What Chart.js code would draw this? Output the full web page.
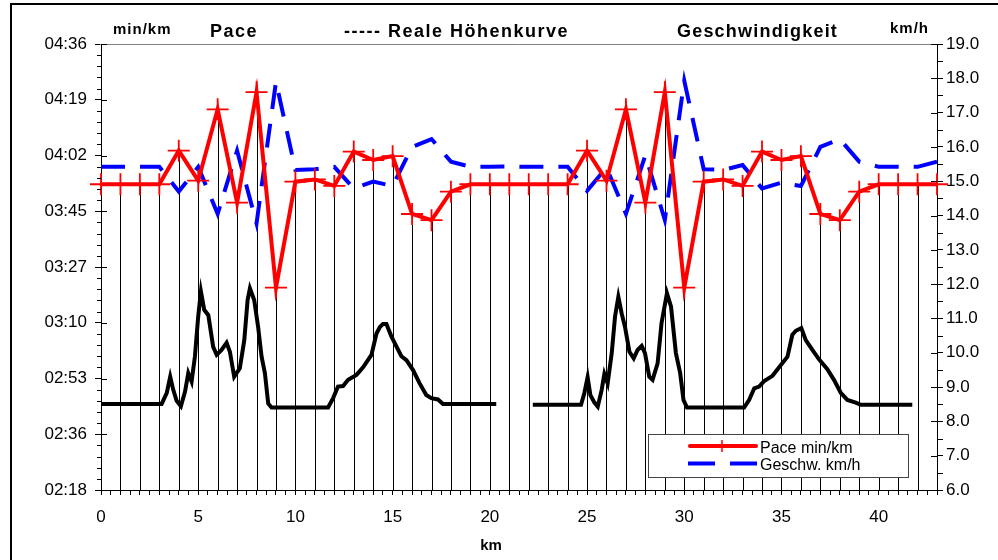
<!DOCTYPE html>
<html lang="de">
<head>
<meta charset="utf-8">
<title>Pace / Reale Höhenkurve / Geschwindigkeit</title>
<script src="https://cdn.jsdelivr.net/npm/chart.js@4.4.1/dist/chart.umd.min.js"></script>
<style>
  html, body { margin: 0; padding: 0; background: #fff; }
  #wrap { width: 998px; height: 560px; }
</style>
</head>
<body>
<div id="wrap"><canvas id="laufChart" width="998" height="560"></canvas></div>
<script>
// Kilometerpunkte (x-Achse)
const kmPunkte = [0, 1, 2, 3, 4, 5, 6, 7, 8, 9, 10, 11, 12, 13, 14, 15, 16, 17, 18, 19, 20, 21,
  22, 23, 24, 25, 26, 27, 28, 29, 30, 31, 32, 33, 34, 35, 36, 37, 38, 39, 40, 41, 42, 43];

// Pace je km in Sekunden (linke Achse, min/km)
const paceSek = [232.6, 232.6, 232.6, 232.6, 243.0, 233.7, 255.8, 226.9, 261.1, 200.6, 233.4,
  234.1, 232.1, 242.7, 240.1, 241.3, 223.4, 221.5, 230.3, 232.6, 232.6, 232.6,
  232.6, 232.6, 232.6, 243.0, 233.7, 255.8, 226.9, 261.1, 200.6, 233.4, 234.1,
  232.1, 242.7, 240.1, 241.3, 223.4, 221.5, 230.3, 232.6, 232.6, 232.6, 232.6];

// Geschwindigkeit je km (rechte Achse, km/h)
const geschwKmh = [15.42, 15.42, 15.42, 15.42, 14.70, 15.42, 14.05, 15.89, 13.77, 17.90, 15.33,
  15.35, 15.42, 14.79, 14.99, 14.86, 16.00, 16.23, 15.57, 15.42, 15.42, 15.43,
  15.42, 15.42, 15.42, 14.72, 15.40, 14.05, 15.76, 13.87, 17.93, 15.35, 15.33,
  15.47, 14.79, 14.96, 14.86, 16.00, 16.23, 15.57, 15.42, 15.42, 15.42, 15.57];

// Reale Höhenkurve (eigene, unsichtbare Achse); null = Lücke
const hoeheKm = [0, 3.12, 3.38, 3.56, 3.72, 3.89, 4.11, 4.32, 4.49, 4.66, 4.83, 5.00, 5.14, 5.31,
  5.52, 5.77, 5.95, 6.20, 6.46, 6.63, 6.85, 7.14, 7.37, 7.54, 7.66, 7.88, 8.08, 8.26, 8.43,
  8.60, 8.77, 11.68, 11.94, 12.19, 12.45, 12.71, 13.14, 13.48, 13.91, 14.17, 14.34, 14.50,
  14.68, 14.94, 15.45, 15.71, 16.05, 16.39, 16.73, 16.99, 17.33, 17.59, 20.33, 21.3,
  22.21, 24.69, 24.86, 25.03, 25.17, 25.38, 25.55, 25.75, 25.89, 26.06, 26.27, 26.44, 26.61,
  26.78, 26.95, 27.18, 27.40, 27.60, 27.81, 27.98, 28.20, 28.37, 28.63, 28.83, 29.11, 29.32,
  29.57, 29.79, 29.96, 30.14, 33.08, 33.34, 33.60, 33.85, 34.11, 34.54, 34.88, 35.31, 35.56,
  35.74, 36.02, 36.25, 36.59, 36.93, 37.36, 37.70, 38.05, 38.39, 38.82, 39.08, 41.73];
const hoeheM = [19.3, 19.3, 21.7, 25.4, 22.4, 20.0, 18.8, 22.0, 26.2, 24.3, 29.9, 38.9, 44.5, 40.4,
  39.2, 32.1, 30.3, 31.4, 33.0, 31.0, 25.4, 27.3, 33.6, 42.6, 45.2, 42.6, 36.6, 29.9, 26.2,
  19.4, 18.5, 18.5, 20.6, 23.2, 23.3, 24.7, 25.8, 27.5, 30.3, 35.1, 36.5, 37.2,
  37.2, 34.4, 30.0, 29.1, 26.9, 23.9, 21.3, 20.6, 20.3, 19.3, 19.3, null,
  19.1, 19.1, 21.7, 25.3, 21.3, 19.6, 18.7, 22.4, 26.0, 23.9, 30.7, 38.9, 43.3,
  39.6, 36.6, 31.0, 29.5, 31.4, 32.3, 30.7, 25.4, 24.7, 28.4, 37.4, 44.1, 41.1,
  30.7, 26.2, 20.2, 18.5, 18.5, 20.2, 22.8, 23.2, 24.4, 25.6, 27.5, 29.9, 34.8,
  35.7, 36.3, 33.6, 31.4, 29.3, 27.1, 24.7, 21.8, 20.2, 19.6, 19.1, 19.1];

// Achsenbeschriftung links
const paceTickSek = [138, 155.25, 172.5, 189.75, 207, 224.25, 241.5, 258.75, 276];
const paceTickLabels = ['02:18', '02:36', '02:53', '03:10', '03:27', '03:45', '04:02', '04:19', '04:36'];

const FONT = "'Liberation Sans', Arial, Helvetica, sans-serif";
Chart.defaults.font.family = FONT;
Chart.defaults.font.size = 17;
Chart.defaults.color = '#000';

const ROT = '#ff0000';
const BLAU = '#0000ff';

const pacePunkte = kmPunkte.map((km, i) => ({ x: km, y: paceSek[i] }));
const geschwPunkte = kmPunkte.map((km, i) => ({ x: km, y: geschwKmh[i] }));
const hoehePunkte = hoeheKm.map((km, i) => ({ x: km, y: hoeheM[i] }));

function text(ctx, str, x, y, font, spacing, align) {
  ctx.font = font;
  ctx.letterSpacing = spacing || '0px';
  ctx.textAlign = align || 'left';
  ctx.textBaseline = 'alphabetic';
  ctx.fillText(str, x, y);
}

const dekoPlugin = {
  id: 'deko',
  beforeDraw(chart) {
    const ctx = chart.ctx;
    ctx.save();
    ctx.fillStyle = '#fff';
    ctx.fillRect(0, 0, chart.width, chart.height);
    // Rahmen oben / links
    ctx.strokeStyle = '#000';
    ctx.lineWidth = 2;
    ctx.beginPath();
    ctx.moveTo(11, chart.height);
    ctx.lineTo(11, 4);
    ctx.lineTo(chart.width, 4);
    ctx.stroke();
    ctx.restore();
  },
  beforeDatasetsDraw(chart) {
    // Lotlinien von jedem Pace-Punkt zur x-Achse
    const { ctx, chartArea, scales } = chart;
    ctx.save();
    ctx.strokeStyle = '#000';
    ctx.lineWidth = 1;
    ctx.beginPath();
    kmPunkte.forEach((km, i) => {
      const x = Math.round(scales.x.getPixelForValue(km)) + 0.5;
      ctx.moveTo(x, scales.y.getPixelForValue(paceSek[i]));
      ctx.lineTo(x, chartArea.bottom);
    });
    ctx.stroke();
    ctx.restore();
  },
  afterDraw(chart) {
    const { ctx, chartArea, scales } = chart;
    const { left, right, top } = chartArea;
    ctx.save();

    // obere Begrenzung
    ctx.strokeStyle = '#808080';
    ctx.lineWidth = 1;
    ctx.beginPath();
    ctx.moveTo(left - 1, top + 0.5);
    ctx.lineTo(right, top + 0.5);
    ctx.stroke();

    // Zwischenstriche und innere Hauptstriche
    ctx.strokeStyle = '#000';
    ctx.beginPath();
    paceTickSek.forEach((v, i) => {
      const y = Math.round(scales.y.getPixelForValue(v)) + 0.5;
      ctx.moveTo(left, y); ctx.lineTo(left + 6, y);
      if (i < paceTickSek.length - 1) {
        const step = (paceTickSek[i + 1] - v) / 5;
        for (let j = 1; j < 5; j++) {
          const ym = Math.round(scales.y.getPixelForValue(v + j * step)) + 0.5;
          ctx.moveTo(left - 4, ym); ctx.lineTo(left, ym);
        }
      }
    });
    for (let v = 6; v <= 19; v++) {
      const y = Math.round(scales.y2.getPixelForValue(v)) + 0.5;
      ctx.moveTo(right - 6, y); ctx.lineTo(right, y);
      if (v < 19) {
        const ym = Math.round(scales.y2.getPixelForValue(v + 0.5)) + 0.5;
        ctx.moveTo(right, ym); ctx.lineTo(right + 6, ym);
      }
    }
    ctx.stroke();

    // Überschriften
    ctx.fillStyle = '#000';
    text(ctx, 'min/km', 113, 34, 'bold 15px ' + FONT, '1px');
    text(ctx, 'Pace', 210, 37, 'bold 18px ' + FONT, '1.5px');
    text(ctx, '----- Reale Höhenkurve', 344, 37, 'bold 18px ' + FONT, '1.5px');
    text(ctx, 'Geschwindigkeit', 677, 37, 'bold 18px ' + FONT, '1.2px');
    text(ctx, 'km/h', 890, 33, 'bold 15px ' + FONT, '1px');
    text(ctx, 'km', 491, 550, 'bold 15px ' + FONT, '0px', 'center');

    // Legende
    ctx.fillStyle = '#fff';
    ctx.fillRect(648.5, 434.5, 260, 43);
    ctx.strokeStyle = '#444';
    ctx.lineWidth = 1;
    ctx.strokeRect(648.5, 434.5, 260, 43);

    ctx.strokeStyle = ROT;
    ctx.lineWidth = 4;
    ctx.lineCap = 'round';
    ctx.beginPath();
    ctx.moveTo(690, 446); ctx.lineTo(756, 446);
    ctx.stroke();
    ctx.lineWidth = 1.5;
    ctx.lineCap = 'butt';
    ctx.beginPath();
    ctx.moveTo(722, 440); ctx.lineTo(722, 452);
    ctx.stroke();

    ctx.strokeStyle = BLAU;
    ctx.lineWidth = 4;
    ctx.beginPath();
    ctx.moveTo(688, 463.5); ctx.lineTo(715, 463.5);
    ctx.moveTo(730, 463.5); ctx.lineTo(757, 463.5);
    ctx.stroke();

    ctx.fillStyle = '#000';
    text(ctx, 'Pace min/km', 760, 453, '16px ' + FONT);
    text(ctx, 'Geschw. km/h', 760, 470, '16px ' + FONT);

    ctx.restore();
  }
};

new Chart(document.getElementById('laufChart'), {
  type: 'line',
  data: {
    datasets: [
      {
        label: 'Pace min/km',
        data: pacePunkte,
        yAxisID: 'y',
        borderColor: ROT,
        backgroundColor: ROT,
        borderWidth: 4,
        pointStyle: 'cross',
        pointRadius: 11,
        pointBorderWidth: 1.8,
        pointBorderColor: ROT,
        tension: 0,
        clip: false
      },
      {
        label: 'Geschw. km/h',
        data: geschwPunkte,
        yAxisID: 'y2',
        borderColor: BLAU,
        borderWidth: 4,
        borderDash: [24, 15],
        pointRadius: 0,
        tension: 0
      },
      {
        label: 'Reale Höhenkurve',
        data: hoehePunkte,
        yAxisID: 'yH',
        borderColor: '#000',
        borderWidth: 4,
        pointRadius: 0,
        tension: 0,
        spanGaps: false
      }
    ]
  },
  options: {
    responsive: false,
    animation: false,
    events: [],
    layout: { padding: { top: 44, left: 0, right: 0, bottom: 0 } },
    plugins: { legend: { display: false }, tooltip: { enabled: false } },
    scales: {
      x: {
        type: 'linear', min: 0, max: 43,
        afterFit(s) { s.height = 70; },
        border: { color: '#000', width: 1 },
        grid: { drawOnChartArea: false, color: '#000', tickLength: 5 },
        ticks: {
          stepSize: 0.5, autoSkip: false, maxRotation: 0, padding: 12,
          callback: v => (v % 5 === 0 ? String(v) : '')
        }
      },
      y: {
        position: 'left', min: 138, max: 276,
        afterFit(s) { s.width = 101; },
        afterBuildTicks(s) { s.ticks = paceTickSek.map(v => ({ value: v })); },
        border: { color: '#000', width: 1 },
        grid: { drawOnChartArea: false, color: '#000', tickLength: 6 },
        ticks: { autoSkip: false, padding: 8, callback: (v, i) => paceTickLabels[i] }
      },
      y2: {
        position: 'right', min: 6, max: 19,
        afterFit(s) { s.width = 61; },
        border: { color: '#000', width: 1 },
        grid: { drawOnChartArea: false, color: '#000', tickLength: 6 },
        ticks: { stepSize: 1, autoSkip: false, padding: 3, callback: v => v.toFixed(1) }
      },
      yH: { display: false, min: 0, max: 100 }
    }
  },
  plugins: [dekoPlugin]
});
</script>
</body>
</html>
